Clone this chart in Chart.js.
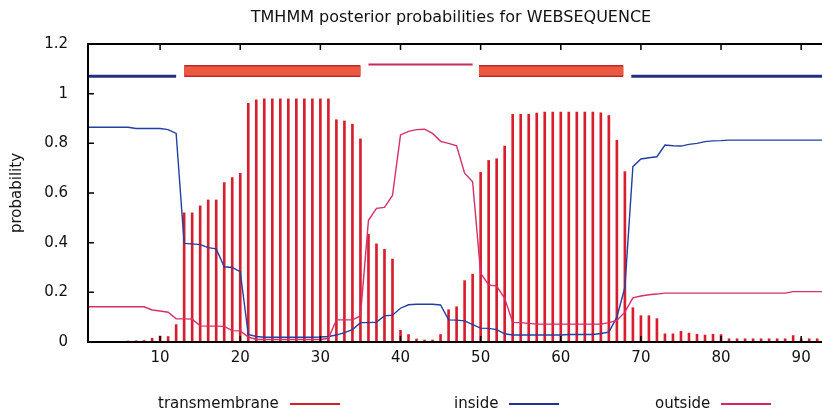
<!DOCTYPE html>
<html>
<head>
<meta charset="utf-8">
<script src="https://cdn.jsdelivr.net/npm/chart.js@4.4.0/dist/chart.umd.min.js"></script>
<style>
  html, body { margin: 0; padding: 0; background: #fff; }
  #wrap { position: relative; width: 822px; height: 416px; overflow: hidden; }
  #title { position: absolute; top: 7px; left: 451px; transform: translateX(-50%); white-space: nowrap;
           font: 16px "DejaVu Sans"; color: #111; }
  .item { position: absolute; top: 394px; white-space: nowrap; font: 15px "DejaVu Sans"; color: #111; line-height: 18px; }
  .item i { display: inline-block; width: 50px; height: 0; border-top: 2px solid; vertical-align: middle; margin-left: 11px; }
</style>
</head>
<body>
<div id="wrap">
  <canvas id="chart" width="822" height="416"></canvas>
  <div id="title">TMHMM posterior probabilities for WEBSEQUENCE</div>
  <div class="item" style="left:158px">transmembrane<i style="border-color:#d0202c"></i></div>
  <div class="item" style="left:454px">inside<i style="border-color:#23318f"></i></div>
  <div class="item" style="left:655px">outside<i style="border-color:#d02860"></i></div>
</div>
<script>
const residues = [1,2,3,4,5,6,7,8,9,10,11,12,13,14,15,16,17,18,19,20,21,22,23,24,25,26,27,28,29,30,
  31,32,33,34,35,36,37,38,39,40,41,42,43,44,45,46,47,48,49,50,51,52,53,54,55,56,57,58,59,60,
  61,62,63,64,65,66,67,68,69,70,71,72,73,74,75,76,77,78,79,80,81,82,83,84,85,86,87,88,89,90,91,92,93];

const transmembrane = [0,0,0,0,0,0.004,0.005,0.006,0.015,0.024,0.022,0.07,0.52,0.52,0.548,0.572,0.572,0.642,0.662,0.679,
  0.961,0.975,0.979,0.979,0.979,0.979,0.979,0.979,0.979,0.979,0.979,0.895,0.89,0.877,0.818,0.434,0.395,0.373,0.334,0.047,
  0.03,0.012,0.008,0.008,0.03,0.13,0.142,0.247,0.273,0.683,0.731,0.738,0.789,0.917,0.917,0.917,0.922,0.926,0.926,0.926,
  0.926,0.926,0.926,0.926,0.923,0.912,0.812,0.686,0.138,0.106,0.106,0.094,0.033,0.033,0.043,0.036,0.031,0.028,0.031,0.03,
  0.013,0.013,0.013,0.013,0.013,0.013,0.013,0.013,0.026,0.013,0.013,0.013,0.013];

const inside = [0.865,0.865,0.865,0.865,0.865,0.865,0.86,0.86,0.86,0.86,0.855,0.84,0.397,0.395,0.392,0.38,0.375,0.303,0.3,0.283,
  0.03,0.022,0.019,0.019,0.019,0.019,0.019,0.019,0.019,0.02,0.022,0.028,0.038,0.05,0.078,0.078,0.08,0.105,0.108,0.136,
  0.15,0.152,0.152,0.152,0.149,0.089,0.088,0.085,0.07,0.056,0.055,0.05,0.033,0.028,0.028,0.028,0.028,0.028,0.028,0.028,
  0.03,0.03,0.03,0.03,0.034,0.04,0.1,0.22,0.706,0.737,0.742,0.746,0.793,0.79,0.789,0.796,0.8,0.807,0.81,0.811,
  0.813,0.813,0.813,0.813,0.813,0.813,0.813,0.813,0.813,0.813,0.813,0.813,0.813];

const outside = [0.142,0.142,0.142,0.142,0.142,0.142,0.142,0.142,0.129,0.125,0.12,0.093,0.093,0.092,0.065,0.064,0.064,0.063,0.046,0.045,
  0.02,0.01,0.01,0.01,0.01,0.01,0.01,0.01,0.01,0.01,0.015,0.089,0.089,0.089,0.105,0.49,0.538,0.542,0.59,0.834,
  0.848,0.855,0.857,0.84,0.808,0.8,0.79,0.68,0.645,0.277,0.23,0.225,0.176,0.079,0.078,0.075,0.072,0.072,0.072,0.072,
  0.072,0.072,0.072,0.072,0.072,0.078,0.087,0.12,0.178,0.185,0.19,0.193,0.197,0.197,0.197,0.197,0.197,0.197,0.197,0.197,
  0.197,0.197,0.197,0.197,0.197,0.197,0.197,0.197,0.203,0.203,0.203,0.203,0.203];

// predicted topology, [start, end]
const tmSegments = [[13, 35], [49.8, 67.8]];
const insideSegments = [[1, 12], [68.8, 93]];
const outsideSegments = [[36, 49]];
const tmLevel = 1.091, insideLevel = 1.07, outsideLevel = 1.117;

const xTicks = [10, 20, 30, 40, 50, 60, 70, 80, 90];
const yTicks = [0, 0.2, 0.4, 0.6, 0.8, 1, 1.2];
const yTickLabels = ['0', '0.2', '0.4', '0.6', '0.8', '1', '1.2'];

const pts = (vals) => residues.map((r, i) => ({ x: r, y: vals[i] }));
const seg = (s, level) => [{ x: s[0], y: level }, { x: s[1], y: level }];

const lineDs = (data, color, width) => ({
  type: 'line', data, borderColor: color, borderWidth: width,
  pointRadius: 0, tension: 0, fill: false, borderCapStyle: 'butt'
});

// chart.js paints the first dataset last, so the light fill goes before its dark outline
const datasets = [];
tmSegments.forEach(s => {
  datasets.push(lineDs(seg(s, tmLevel), '#ea5a40', 9));
  datasets.push(lineDs(seg(s, tmLevel), '#c3282c', 12));
});
insideSegments.forEach(s => datasets.push(lineDs(seg(s, insideLevel), '#23307f', 3)));
outsideSegments.forEach(s => datasets.push(lineDs(seg(s, outsideLevel), '#c8285a', 2)));
datasets.push(lineDs(pts(outside), '#d4306a', 1.4));
datasets.push(lineDs(pts(inside), '#2340a0', 1.4));
datasets.push({
  type: 'bar', data: pts(transmembrane), backgroundColor: '#d81e2e',
  barThickness: 2, borderWidth: 0
});

const frame = {
  id: 'frame',
  afterDatasetsDraw(chart) {
    const { ctx, chartArea: a, scales: { x, y } } = chart;
    ctx.save();
    ctx.strokeStyle = '#000';
    ctx.lineWidth = 2;
    ctx.beginPath();
    ctx.moveTo(a.right + 2, a.top); ctx.lineTo(a.left, a.top);
    ctx.lineTo(a.left, a.bottom); ctx.lineTo(a.right + 2, a.bottom);
    ctx.stroke();
    ctx.lineWidth = 1.5;
    ctx.beginPath();
    yTicks.forEach(v => {
      const py = y.getPixelForValue(v);
      ctx.moveTo(a.left, py); ctx.lineTo(a.left + 6, py);
    });
    xTicks.forEach(v => {
      const px = x.getPixelForValue(v);
      ctx.moveTo(px, a.bottom); ctx.lineTo(px, a.bottom - 6);
      ctx.moveTo(px, a.top); ctx.lineTo(px, a.top + 6);
    });
    ctx.stroke();
    ctx.restore();
  }
};

new Chart(document.getElementById('chart'), {
  type: 'bar',
  data: { datasets },
  plugins: [frame],
  options: {
    responsive: false,
    animation: false,
    layout: { padding: { top: 44, right: 0, bottom: 0, left: 0 } },
    plugins: { legend: { display: false }, tooltip: { enabled: false }, title: { display: false } },
    scales: {
      x: {
        type: 'linear', min: 1, max: 92.6, offset: false,
        grid: { display: false, drawTicks: false },
        border: { display: false },
        afterBuildTicks: (s) => { s.ticks = xTicks.map(v => ({ value: v })); },
        afterFit: (s) => { s.height = 74; },
        ticks: { padding: 7, color: '#111', font: { family: 'DejaVu Sans', size: 15 }, maxRotation: 0 }
      },
      y: {
        min: 0, max: 1.2,
        grid: { display: false, drawTicks: false },
        border: { display: false },
        afterBuildTicks: (s) => { s.ticks = yTicks.map(v => ({ value: v })); },
        afterFit: (s) => { s.width = 88; },
        ticks: {
          padding: 20, color: '#111', font: { family: 'DejaVu Sans', size: 15 },
          callback: (v, i) => yTickLabels[i]
        },
        title: { display: true, text: 'probability', color: '#111', font: { family: 'DejaVu Sans', size: 15 }, padding: { top: 8, bottom: 0 } }
      }
    }
  }
});
</script>
</body>
</html>
